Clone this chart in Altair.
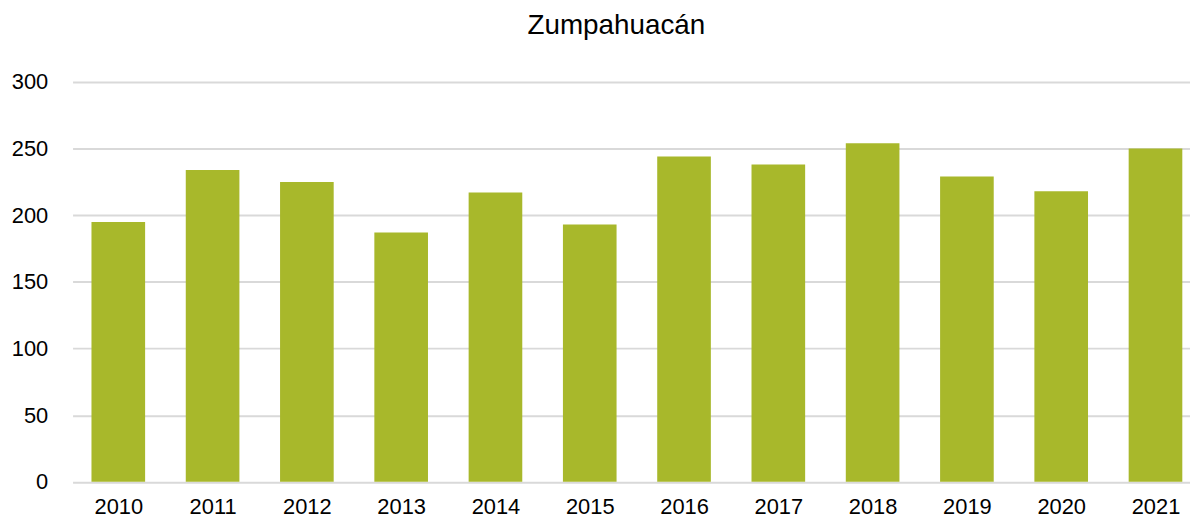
import altair as alt
import pandas as pd

years = [2010, 2011, 2012, 2013, 2014, 2015, 2016, 2017, 2018, 2019, 2020, 2021]
values = [195, 234, 225, 187, 217, 193, 244, 238, 254, 229, 218, 250]
y_ticks = [0, 50, 100, 150, 200, 250, 300]

df = pd.DataFrame({"year": years, "value": values})

FONT = "Liberation Sans"

chart = (
    alt.Chart(df, title=alt.Title(
        "Zumpahuacán", font=FONT, fontSize=28, fontWeight="normal", color="#000000",
        anchor="middle", dx=-15, offset=9, baseline="alphabetic"))
    .mark_bar(width=54, color="#a8b82b")
    .encode(
        x=alt.X("year:Q",
                scale=alt.Scale(domain=[2009.515, 2021.366], nice=False, zero=False,
                                padding=0),
                axis=alt.Axis(values=years, format="d", title=None, grid=False,
                              domain=False, ticks=False, tickSize=0, labelFlush=False,
                              labelOverlap=False, labelFont=FONT, labelFontSize=22,
                              labelColor="#000000", labelPadding=15)),
        y=alt.Y("value:Q",
                scale=alt.Scale(domain=[0, 300], nice=False),
                axis=alt.Axis(values=y_ticks, title=None, domain=False, ticks=False,
                              tickSize=0, gridColor="#d9d9d9", gridWidth=2,
                              labelFont=FONT, labelFontSize=22, labelColor="#000000",
                              labelPadding=25)),
    )
    .properties(width=1125, height=402.6,
                autosize=alt.AutoSizeParams(type="none"),
                padding={"left": 65, "top": 72.7, "right": 0, "bottom": 37.7})
    .configure_view(stroke=None)
)

chart.save("out.html", embed_options={"renderer": "svg", "actions": False})
